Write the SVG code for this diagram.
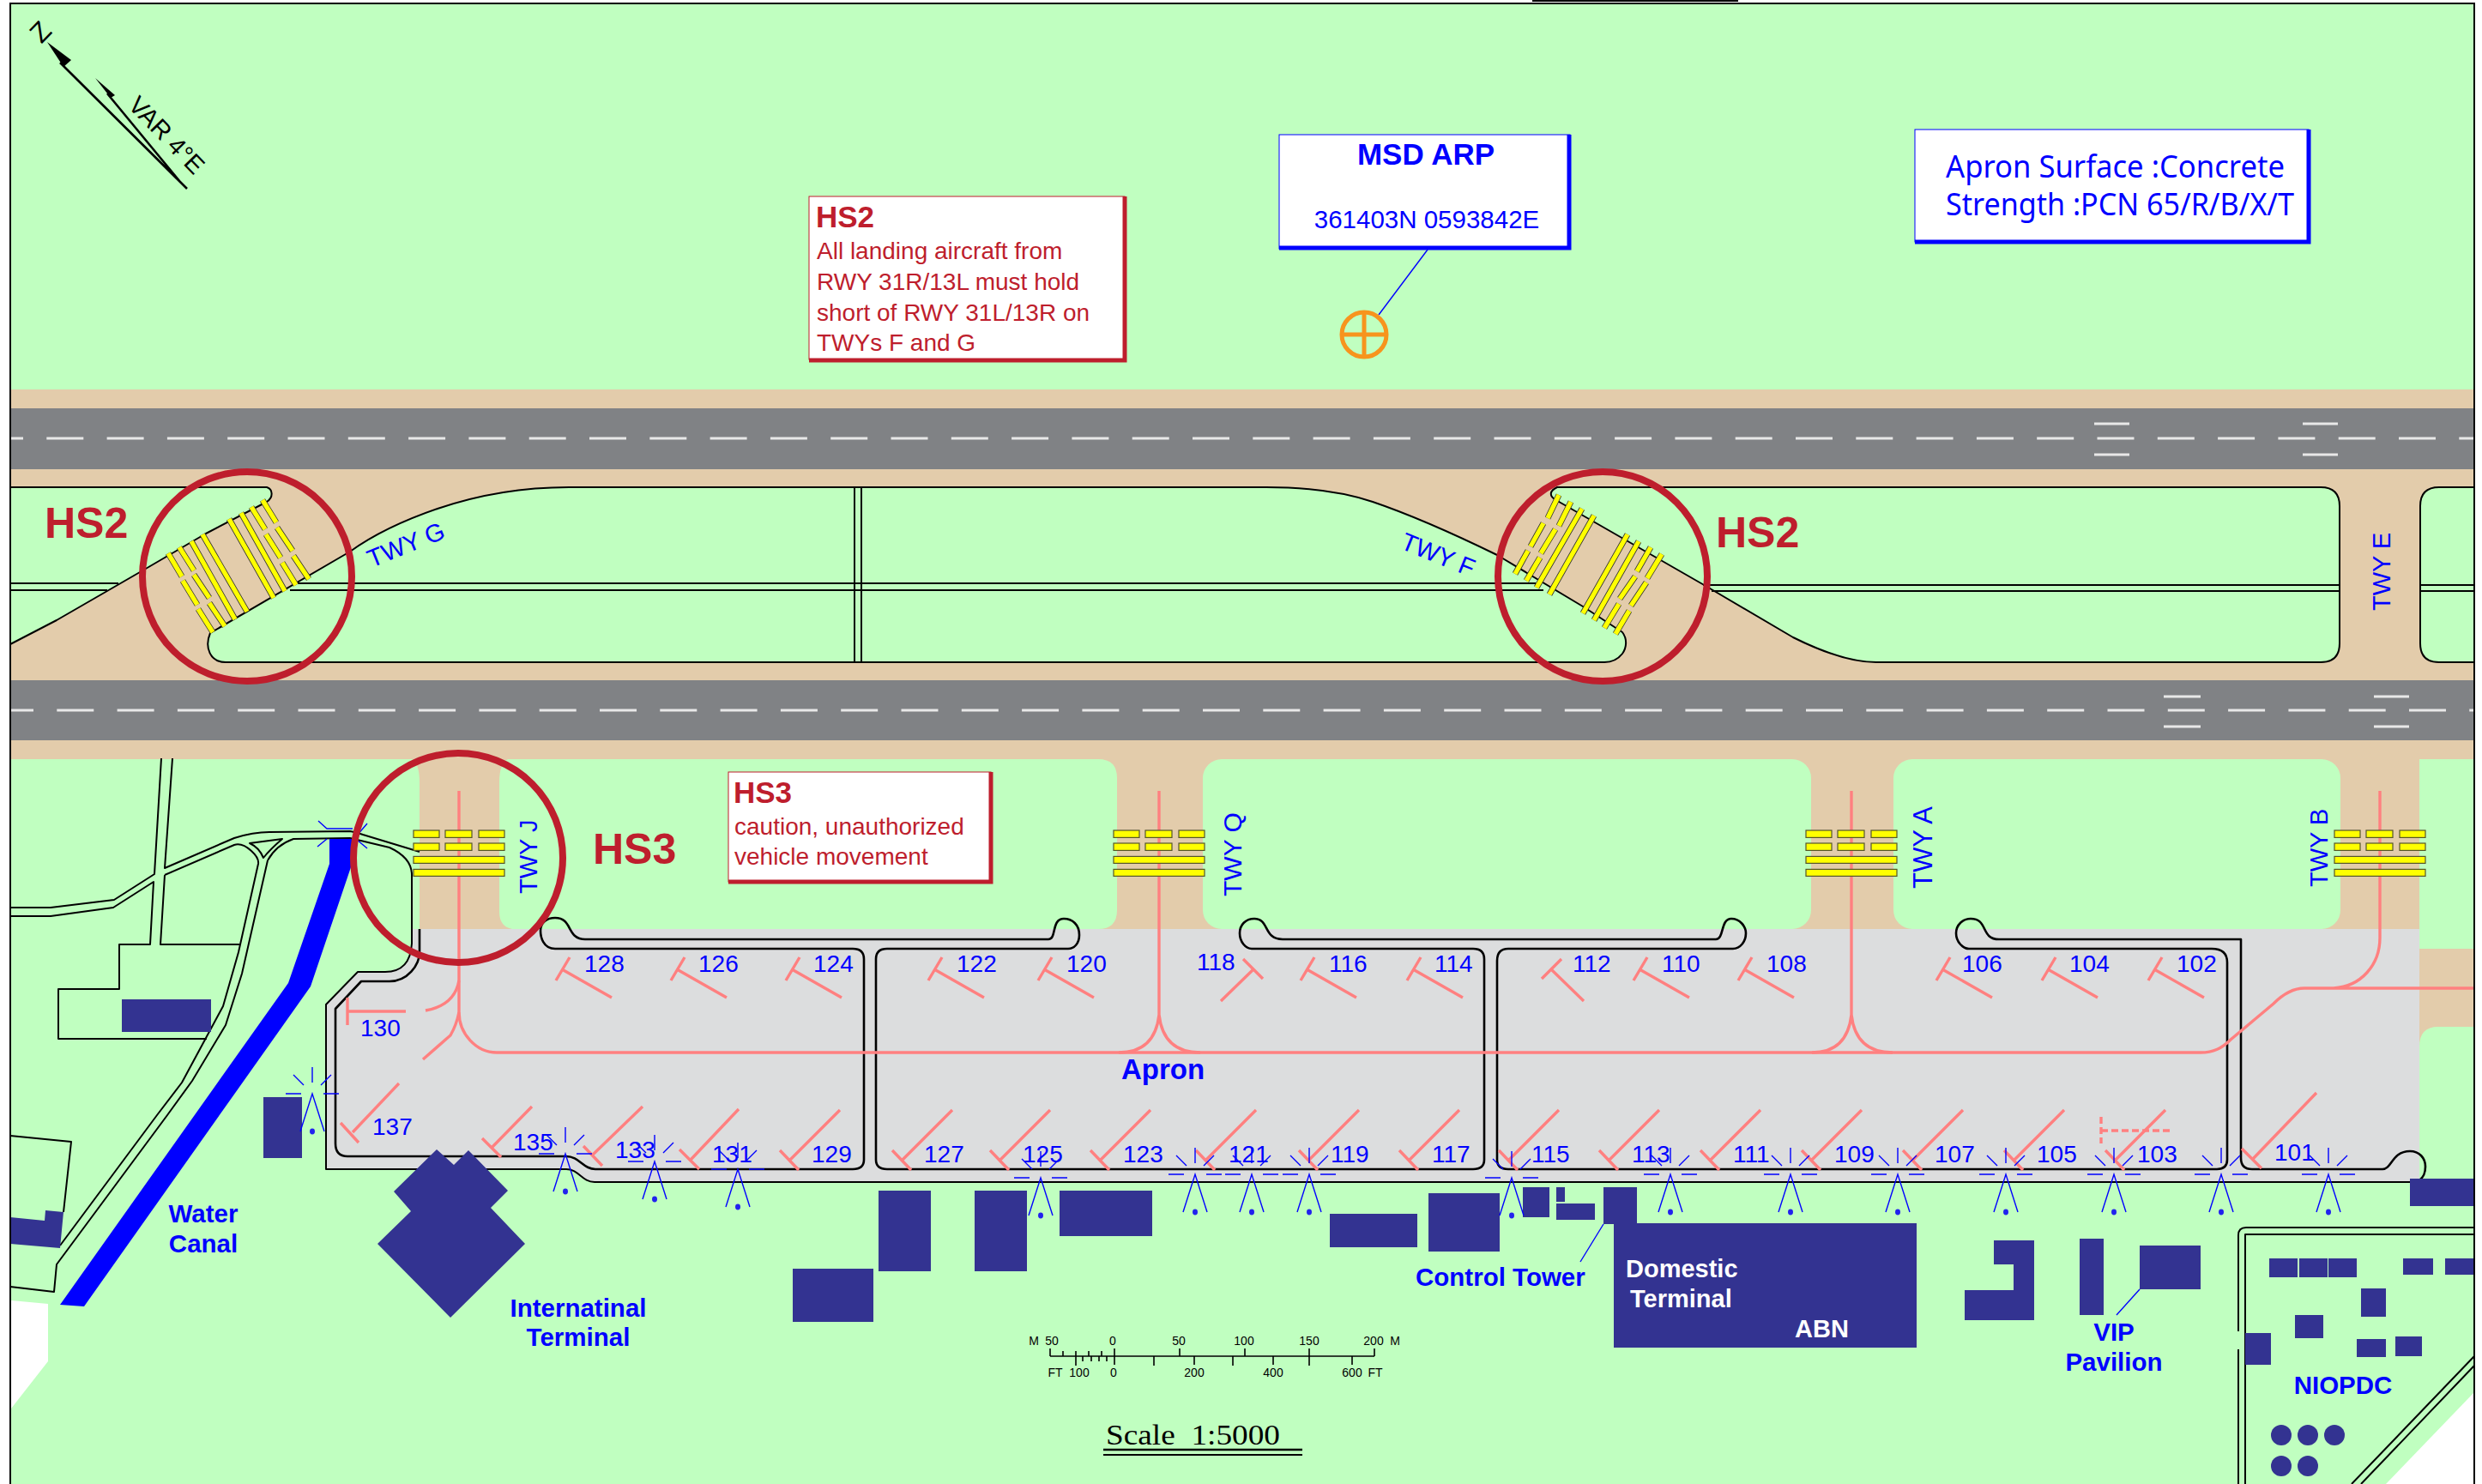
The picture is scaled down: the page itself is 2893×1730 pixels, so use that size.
<svg xmlns="http://www.w3.org/2000/svg" xmlns:xlink="http://www.w3.org/1999/xlink" width="2893" height="1730" viewBox="0 0 2893 1730">
<style>
text{font-family:"Liberation Sans",Arial,sans-serif}
.gr{fill:#C0FFC0}.tan{fill:#E3CCAB}.rw{fill:#808285}.nv{fill:#333391}
.rd{fill:none;stroke:#000;stroke-width:2;stroke-linejoin:round}
.ap{fill:none;stroke:#000;stroke-width:2.6;stroke-linejoin:round}
.dash{fill:none;stroke:#E8E8E8;stroke-width:3;stroke-dasharray:43 27.3}
.thr{fill:none;stroke:#E8E8E8;stroke-width:3}
.pk{fill:none;stroke:#FF8080;stroke-width:3.4}
.bar{fill:#FFFF00;stroke:#55552a;stroke-width:1.2}
.o{fill:none;stroke:#333;stroke-width:7}
.y{fill:none;stroke:#FFFF00;stroke-width:5.4}
.ring{fill:none;stroke:#BE1E2D;stroke-width:8}
.n{fill:#0000FF;font-size:28px}
.l{fill:#0000FF;font-size:29.5px;font-weight:bold}
.t{fill:#0000FF;font-size:29px}
.h{fill:#BE1E2D;font-size:50px;font-weight:bold}
.w{fill:#fff;font-size:29px;font-weight:bold}
.r{fill:#BE1E2D;font-size:28px}
.s{fill:#000;font-size:14px;text-anchor:middle}
.lt{fill:none;stroke:#0000FF;stroke-width:1.4}
.tk{fill:none;stroke:#000;stroke-width:1.6}
</style>
<defs>
<g id="st"><path class="pk" d="M0,0L58,33M9,-14L-7,13"/></g>
<g id="sb"><path class="pk" d="M0,0L58,-58M-12,-11L10,12"/></g>
<g id="li"><path class="lt" d="M-14,44L0,0L14,44M0,-31V-13M-22,-22L-10,-10M22,-22L10,-10M-31,0H-13M13,0H31"/><ellipse cx="0" cy="44" rx="3" ry="3.4" fill="#2222EE"/></g>
<g id="hb">
<rect class="bar" x="-53" y="0" width="30" height="8.4"/><rect class="bar" x="-16" y="0" width="31" height="8.4"/><rect class="bar" x="23" y="0" width="30" height="8.4"/>
<rect class="bar" x="-53" y="15" width="30" height="8.4"/><rect class="bar" x="-16" y="15" width="31" height="8.4"/><rect class="bar" x="23" y="15" width="30" height="8.4"/>
<rect class="bar" x="-53" y="30.4" width="106" height="8"/><rect class="bar" x="-53" y="45.4" width="106" height="8"/>
</g>
<path id="bg" d="M267,605L319,697M281,598L332,689M293,591L309,617M310,623L327,650M329,656L345,682M306,583L322,609M323,615L341,642M342,648L360,675M196,645L212,672M213,677L230,705M231,710L248,737M209,638L226,665M226,670L244,697M244,703L262,730M223,631L274,722M236,623L288,713"/>
<path id="bf" d="M1817,577L1804,604M1799,610L1784,637M1781,642L1766,669M1831,585L1817,613M1813,617L1796,645M1795,650L1779,677M1844,593L1791,685M1858,601L1806,693M1897,623L1845,715M1910,631L1858,723M1924,638L1908,666M1906,672L1888,698M1887,704L1870,732M1937,646L1920,674M1919,679L1901,706M1899,712L1883,739"/>
</defs>

<g id="ground">
<rect width="2893" height="1730" fill="#fff"/>
<rect class="gr" x="12" y="4" width="2872" height="1726"/>
<polygon fill="#fff" points="13,1516 56,1520 56,1587 13,1642"/>
<polygon fill="#fff" points="2884,1623 2781,1730 2884,1730"/>
<rect class="tan" x="12" y="454" width="2872" height="431"/>
<rect class="tan" x="12" y="885" width="2808" height="198"/>
<path class="tan" d="M2819,1106H2884V1197H2842Q2820,1197 2820,1220Z"/>
</g>

<g id="infield">
<path class="gr" d="M12,568H311C318,570 319,580 311,585L240,622L163,667L66,723L12,751Z"/>
<path class="gr" d="M245,738L408,643C440,620 475,605 510,593C560,576 610,568 663,568H1476C1530,568 1570,575 1600,585C1650,602 1700,625 1745,647L1845,707L1891,737C1897,745 1896,755 1891,762C1885,770 1878,772 1870,772H263C245,772 238,755 245,738Z"/>
<path class="gr" d="M1815,568H2705Q2727,568 2727,590V750Q2727,772 2705,772H2187C2160,772 2130,763 2090,743L1988,683L1812,582C1806,578 1806,572 1815,568Z"/>
<path class="gr" d="M2843,568H2884V772H2843Q2821,772 2821,750V590Q2821,568 2843,568Z"/>
<path class="gr" d="M12,885H480Q489,890 489,912V1083H12Z"/>
<path class="gr" d="M582,912Q582,890 592,885H1280Q1302,885 1302,907V1061Q1302,1083 1280,1083H597Q582,1080 582,1063Z"/>
<rect class="gr" x="1402" y="885" width="709" height="198" rx="22"/>
<rect class="gr" x="2207" y="885" width="521" height="198" rx="22"/>
<path class="gr" d="M2820,905Q2820,885 2838,885H2884V1106H2820Z"/>
</g>

<g id="runways">
<rect class="rw" x="12" y="476" width="2872" height="71"/>
<rect class="rw" x="12" y="793" width="2872" height="70"/>
<path class="dash" stroke-dashoffset="28" d="M12,511H2884"/>
<path class="dash" stroke-dashoffset="16" d="M12,828H2884"/>
<path class="thr" d="M2441,494H2482M2441,530H2482M2684,494H2725M2684,530H2725M2522,812H2565M2522,847H2565M2767,812H2808M2767,847H2808"/>
</g>

<g id="apron">
<path fill="#DCDDDE" d="M479,1083H2820V1375L2809,1378H693C675,1378 672,1363 660,1363H380V1171L417,1133H449C469,1130 479,1120 479,1110Z"/>
</g>

<g id="linework">
<path class="rd" d="M12,568H311C318,570 319,580 311,585L240,622L163,667L66,723L12,751"/>
<path class="rd" d="M245,738L408,643C440,620 475,605 510,593C560,576 610,568 663,568H1476C1530,568 1570,575 1600,585C1650,602 1700,625 1745,647L1845,707L1891,737C1897,745 1896,755 1891,762C1885,770 1878,772 1870,772H263C245,772 238,755 245,738"/>
<path class="rd" d="M1815,568H2705Q2727,568 2727,590V750Q2727,772 2705,772H2187C2160,772 2130,763 2090,743L1988,683L1812,582C1806,578 1806,572 1815,568Z"/>
<path class="rd" d="M2884,568H2843Q2821,568 2821,590V750Q2821,772 2843,772H2884"/>
<path class="rd" d="M12,680H138M12,688H125M347,680H1790M338,688H1799M1985,682H2727M1995,689H2727M2821,682H2884M2821,689H2884M996,568V772M1004,568V772"/>
<path class="rd" d="M12,1058H59L133,1049L180,1019L188,884"/>
<path class="rd" d="M12,1068H59L132,1058L179,1028L175,1101H139V1153H68V1211H241"/>
<path class="rd" d="M201,884L192,1012L273,977Q295,970 314,970L408,969Q415,970 423,973L489,993"/>
<path class="rd" d="M192,1020L187,1101H279M192,1020L273,985Q282,982 293,992Q302,1000 301,1007L278,1110L260,1173L212,1262L183,1300L70,1452"/>
<path class="rd" d="M312,1003Q322,985 342,978L408,977L454,988Q480,1000 480,1020V1100Q478,1133 449,1133H417L380,1171V1363H660C675,1363 678,1378 693,1378H2809"/>
<path class="rd" d="M312,1003L282,1135L263,1195L224,1260L195,1300L66,1474L63,1506L12,1500"/>
<path class="rd" d="M291,983L329,978Q315,990 307,1000Q302,988 291,983Z"/>
<path class="rd" d="M12,1324L83,1331L74,1413"/>
<path class="ap" d="M489,1083V1110C489,1125 475,1144 454,1144H421L391,1176V1333Q391,1348 405,1348H660C675,1348 680,1363 694,1363H994Q1007,1363 1007,1352V1118Q1007,1106 994,1106H647C633,1106 630,1092 630,1085C630,1075 638,1070 647,1070C668,1070 660,1095 682,1095H1222C1232,1095 1225,1071 1240,1071C1250,1071 1258,1078 1258,1090C1258,1100 1252,1106 1245,1106H1034Q1021,1106 1021,1118V1352Q1021,1363 1034,1363H1717Q1730,1363 1730,1352V1118Q1730,1106 1717,1106H1459C1452,1106 1445,1098 1445,1088C1445,1078 1452,1071 1462,1071C1480,1071 1472,1095 1495,1095H2000C2010,1095 2005,1071 2018,1071C2028,1071 2035,1080 2035,1088C2035,1098 2028,1106 2020,1106H1758Q1745,1106 1745,1120V1352Q1745,1363 1758,1363H2584Q2596,1363 2596,1352V1122Q2596,1106 2578,1106H2295C2288,1106 2280,1098 2280,1088C2280,1078 2288,1071 2297,1071C2318,1071 2308,1095 2330,1095H2612V1350Q2612,1363 2625,1363H2777C2788,1363 2788,1342 2809,1342C2820,1342 2827,1350 2827,1360C2827,1368 2825,1372 2820,1376"/>
<path class="rd" d="M2884,1431H2618Q2609,1431 2609,1440V1552M2609,1573V1730M2884,1439H2617V1730"/>
<path class="rd" d="M2884,1581L2741,1730M2884,1592L2752,1730"/>
</g>

<g id="canal">
<polygon fill="#0000FF" points="384,978 410,978 410,1008 362,1150 98,1523 70,1521 336,1146 384,1007"/>
<path class="lt" d="M371,957L381,966H411M428,960L416,974M370,987L381,978M428,989L416,979"/>
</g>

<g id="buildings">
<rect class="nv" x="142" y="1165" width="104" height="38"/>
<rect class="nv" x="307" y="1279" width="45" height="71"/>
<polygon class="nv" points="509,1340 529,1358 546,1341 592,1388 572,1408 612,1450 525,1536 440,1450 479,1412 459,1389"/>
<polygon class="nv" points="12,1419 52,1423 53,1411 74,1413 70,1455 12,1450"/>
<rect class="nv" x="924" y="1479" width="94" height="62"/>
<rect class="nv" x="1024" y="1388" width="61" height="94"/>
<rect class="nv" x="1136" y="1388" width="61" height="94"/>
<rect class="nv" x="1235" y="1388" width="108" height="53"/>
<rect class="nv" x="1550" y="1415" width="102" height="39"/>
<rect class="nv" x="1665" y="1391" width="83" height="68"/>
<rect class="nv" x="1775" y="1384" width="31" height="35"/>
<rect class="nv" x="1814" y="1384" width="10" height="17"/>
<rect class="nv" x="1814" y="1403" width="45" height="19"/>
<rect class="nv" x="1869" y="1384" width="39" height="43"/>
<rect class="nv" x="1881" y="1426" width="353" height="145"/>
<polygon class="nv" points="2324,1446 2371,1446 2371,1539 2290,1539 2290,1504 2347,1504 2347,1474 2324,1474"/>
<rect class="nv" x="2424" y="1444" width="28" height="89"/>
<rect class="nv" x="2494" y="1452" width="71" height="51"/>
<rect class="nv" x="2809" y="1374" width="75" height="32"/>
<rect class="nv" x="2645" y="1467" width="33" height="22"/>
<rect class="nv" x="2680" y="1467" width="33" height="22"/>
<rect class="nv" x="2714" y="1467" width="33" height="22"/>
<rect class="nv" x="2801" y="1467" width="35" height="19"/>
<rect class="nv" x="2850" y="1467" width="34" height="19"/>
<rect class="nv" x="2752" y="1502" width="29" height="33"/>
<rect class="nv" x="2675" y="1533" width="33" height="27"/>
<rect class="nv" x="2747" y="1561" width="34" height="21"/>
<rect class="nv" x="2792" y="1558" width="31" height="23"/>
<rect class="nv" x="2617" y="1554" width="30" height="37"/>
<circle class="nv" cx="2659" cy="1673" r="12"/><circle class="nv" cx="2690" cy="1673" r="12"/><circle class="nv" cx="2721" cy="1673" r="12"/>
<circle class="nv" cx="2659" cy="1709" r="12"/><circle class="nv" cx="2690" cy="1709" r="12"/>
<path class="lt" d="M2494,1503L2467,1533M1869,1427L1842,1471"/>
</g>

<g id="guidelines">
<path class="pk" d="M535,922V1180C535,1205 555,1227 579,1227H2565C2580,1227 2590,1222 2600,1212L2650,1170Q2668,1152 2686,1152H2884M2720,1152C2752,1150 2774,1125 2774,1093V922"/>
<path class="pk" d="M535,1180Q532,1195 525,1207L493,1235M535,1143Q530,1172 496,1178M405,1163V1195M405,1179H473"/>
<path class="pk" d="M1351,922V1183Q1346,1227 1304,1227M1351,1183Q1356,1227 1399,1227M2158,922V1183Q2153,1227 2112,1227M2158,1183Q2163,1227 2206,1227"/>
<path class="pk" stroke-dasharray="8 4" d="M2449,1302V1333M2449,1318H2531"/>
<path class="pk" d="M411,1320L465,1263M397,1309L418,1332M573,1338L620,1290M562,1327L584,1349M690,1347L749,1290M680,1336L702,1359M805,1352L861,1293M792,1340L815,1363"/>
<path class="pk" d="M1461,1130L1423,1167M1449,1118L1472,1141M1808,1130L1846,1167M1820,1118L1797,1141M2625,1352L2700,1274M2613,1339L2636,1362"/>
<use xlink:href="#st" x="655" y="1130"/><use xlink:href="#st" x="789" y="1130"/><use xlink:href="#st" x="923" y="1130"/><use xlink:href="#st" x="1089" y="1130"/><use xlink:href="#st" x="1217" y="1130"/><use xlink:href="#st" x="1523" y="1130"/><use xlink:href="#st" x="1647" y="1130"/><use xlink:href="#st" x="1911" y="1130"/><use xlink:href="#st" x="2033" y="1130"/><use xlink:href="#st" x="2264" y="1130"/><use xlink:href="#st" x="2387" y="1130"/><use xlink:href="#st" x="2511" y="1130"/>
<use xlink:href="#sb" x="921" y="1352"/><use xlink:href="#sb" x="1052" y="1352"/><use xlink:href="#sb" x="1166" y="1352"/><use xlink:href="#sb" x="1283" y="1352"/><use xlink:href="#sb" x="1406" y="1352"/><use xlink:href="#sb" x="1526" y="1352"/><use xlink:href="#sb" x="1643" y="1352"/><use xlink:href="#sb" x="1759" y="1352"/><use xlink:href="#sb" x="1876" y="1352"/><use xlink:href="#sb" x="1994" y="1352"/><use xlink:href="#sb" x="2112" y="1352"/><use xlink:href="#sb" x="2230" y="1352"/><use xlink:href="#sb" x="2348" y="1352"/><use xlink:href="#sb" x="2466" y="1352"/>
</g>

<g id="holdbars">
<use xlink:href="#hb" x="535" y="968"/><use xlink:href="#hb" x="1351" y="968"/><use xlink:href="#hb" x="2158" y="968"/><use xlink:href="#hb" x="2774" y="968"/>
<use xlink:href="#bg" class="o"/><use xlink:href="#bg" class="y"/><use xlink:href="#bf" class="o"/><use xlink:href="#bf" class="y"/>
</g>

<g id="lights">
<use xlink:href="#li" x="364" y="1275"/><use xlink:href="#li" x="659" y="1345"/><use xlink:href="#li" x="763" y="1354"/><use xlink:href="#li" x="860" y="1363"/><use xlink:href="#li" x="1213" y="1373"/><use xlink:href="#li" x="1393" y="1369"/><use xlink:href="#li" x="1459" y="1369"/><use xlink:href="#li" x="1526" y="1369"/><use xlink:href="#li" x="1762" y="1373"/><use xlink:href="#li" x="1947" y="1369"/><use xlink:href="#li" x="2087" y="1369"/><use xlink:href="#li" x="2212" y="1369"/><use xlink:href="#li" x="2338" y="1369"/><use xlink:href="#li" x="2464" y="1369"/><use xlink:href="#li" x="2589" y="1369"/><use xlink:href="#li" x="2714" y="1369"/>
</g>

<g id="rings">
<circle class="ring" cx="288" cy="672" r="122"/><circle class="ring" cx="1868" cy="672" r="122"/><circle class="ring" cx="534" cy="1000" r="122"/>
</g>

<g id="stand-labels">
<text class="n" x="681" y="1133">128</text><text class="n" x="814" y="1133">126</text><text class="n" x="948" y="1133">124</text><text class="n" x="1115" y="1133">122</text><text class="n" x="1243" y="1133">120</text><text class="n" x="1395" y="1131">118</text><text class="n" x="1549" y="1133">116</text><text class="n" x="1672" y="1133">114</text><text class="n" x="1833" y="1133">112</text><text class="n" x="1937" y="1133">110</text><text class="n" x="2059" y="1133">108</text><text class="n" x="2287" y="1133">106</text><text class="n" x="2412" y="1133">104</text><text class="n" x="2537" y="1133">102</text>
<text class="n" x="420" y="1208">130</text><text class="n" x="434" y="1323">137</text><text class="n" x="598" y="1341">135</text><text class="n" x="717" y="1350">133</text><text class="n" x="830" y="1355">131</text><text class="n" x="946" y="1355">129</text><text class="n" x="1077" y="1355">127</text><text class="n" x="1192" y="1355">125</text><text class="n" x="1309" y="1355">123</text><text class="n" x="1432" y="1355">121</text><text class="n" x="1551" y="1355">119</text><text class="n" x="1669" y="1355">117</text><text class="n" x="1785" y="1355">115</text><text class="n" x="1902" y="1355">113</text><text class="n" x="2020" y="1355">111</text><text class="n" x="2138" y="1355">109</text><text class="n" x="2255" y="1355">107</text><text class="n" x="2374" y="1355">105</text><text class="n" x="2491" y="1355">103</text><text class="n" x="2651" y="1353">101</text>
</g>

<g id="labels">
<text class="h" x="52" y="627">HS2</text><text class="h" x="2000" y="638">HS2</text><text class="h" x="691" y="1007">HS3</text>
<text class="t" transform="translate(433,662) rotate(-22)">TWY G</text>
<text class="t" transform="translate(1631,639) rotate(22)">TWY F</text>
<text class="t" transform="translate(2786,712) rotate(-90)">TWY E</text>
<text class="t" transform="translate(626,1042) rotate(-90)">TWY J</text>
<text class="t" style="font-size:30px" transform="translate(1447,1045) rotate(-90)">TWY Q</text>
<text class="t" style="font-size:31px" transform="translate(2252,1036) rotate(-90)">TWY A</text>
<text class="t" transform="translate(2713,1034) rotate(-90)">TWY B</text>
<text style="fill:#00f;font-size:33px;font-weight:bold" x="1307" y="1258">Apron</text>
<text class="l" x="237" y="1425" text-anchor="middle">Water</text><text class="l" x="237" y="1460" text-anchor="middle">Canal</text>
<text class="l" x="674" y="1535" text-anchor="middle">Internatinal</text><text class="l" x="674" y="1569" text-anchor="middle">Terminal</text>
<text class="l" x="1650" y="1499">Control Tower</text>
<text class="w" x="1895" y="1489">Domestic</text><text class="w" x="1900" y="1524">Terminal</text><text class="w" x="2092" y="1559">ABN</text>
<text class="l" x="2464" y="1563" text-anchor="middle">VIP</text><text class="l" x="2464" y="1598" text-anchor="middle">Pavilion</text>
<text class="l" x="2731" y="1625" text-anchor="middle">NIOPDC</text>
</g>

<g id="note-hs2">
<rect x="943" y="229" width="368" height="190" fill="#fff" stroke="#BE1E2D" stroke-width="1"/>
<path fill="none" stroke="#BE1E2D" stroke-width="5" d="M1311,229V420H943"/>
<text style="fill:#BE1E2D;font-size:35px;font-weight:bold" x="951" y="265">HS2</text>
<text class="r" x="952" y="302">All landing aircraft from</text><text class="r" x="952" y="338">RWY 31R/13L must hold</text><text class="r" x="952" y="374">short of RWY 31L/13R on</text><text class="r" x="952" y="409">TWYs F and G</text>
</g>
<g id="note-hs3">
<rect x="849" y="900" width="306" height="128" fill="#fff" stroke="#BE1E2D" stroke-width="1"/>
<path fill="none" stroke="#BE1E2D" stroke-width="5" d="M1155,900V1028H849"/>
<text style="fill:#BE1E2D;font-size:35px;font-weight:bold" x="855" y="936">HS3</text>
<text class="r" x="856" y="973">caution, unauthorized</text><text class="r" x="856" y="1008">vehicle movement</text>
</g>
<g id="arp">
<rect x="1491" y="157" width="339" height="133" fill="#fff" stroke="#0000FF" stroke-width="1"/>
<path fill="none" stroke="#0000FF" stroke-width="5" d="M1829,157V289H1491"/>
<text x="1662" y="192" text-anchor="middle" style="fill:#00f;font-size:35px;font-weight:bold">MSD ARP</text>
<text x="1663" y="266" text-anchor="middle" style="fill:#00f;font-size:29.5px">361403N 0593842E</text>
<path class="lt" d="M1664,291L1607,367"/>
<circle cx="1590" cy="390" r="26" fill="none" stroke="#F7941D" stroke-width="5"/>
<path fill="none" stroke="#F7941D" stroke-width="5" d="M1564,390H1616M1590,364V416"/>
</g>
<g id="apron-info">
<rect x="2232" y="151" width="459" height="131" fill="#fff" stroke="#0000FF" stroke-width="1"/>
<path fill="none" stroke="#0000FF" stroke-width="5" d="M2691,151V282H2232"/>
<text x="2268" y="207" textLength="395" lengthAdjust="spacingAndGlyphs" style="fill:#00f;font-size:36px;font-family:'Noto Sans',sans-serif">Apron Surface :Concrete</text>
<text x="2268" y="251" textLength="406" lengthAdjust="spacingAndGlyphs" style="fill:#00f;font-size:36px;font-family:'Noto Sans',sans-serif">Strength :PCN 65/R/B/X/T</text>
</g>

<g id="compass">
<path fill="none" stroke="#000" stroke-width="2.6" d="M218,220L70,73M210,212L125,109"/>
<polygon points="55,49 83,70 74,78"/>
<polygon points="111,91 134,111 129,114"/>
<text style="font-size:32px" text-anchor="middle" transform="translate(47,37) rotate(-46)" y="11">Z</text>
<text style="font-size:29px" transform="translate(148,124) rotate(46)">VAR 4°E</text>
</g>

<g id="scale">
<path class="tk" d="M1224,1581H1602M1224,1572V1581M1239,1575V1581M1254,1575V1592M1269,1575V1581M1284,1575V1581M1299,1572V1591M1375,1572V1581M1451,1572V1581M1526,1572V1592M1602,1572V1581M1262,1581V1587M1272,1581V1587M1281,1581V1587M1290,1581V1587M1345,1581V1592M1392,1581V1591M1437,1581V1592M1484,1581V1591M1576,1581V1591"/>
<text class="s" x="1205" y="1568">M</text><text class="s" x="1226" y="1568">50</text><text class="s" x="1297" y="1568">0</text><text class="s" x="1374" y="1568">50</text><text class="s" x="1450" y="1568">100</text><text class="s" x="1526" y="1568">150</text><text class="s" x="1601" y="1568">200</text><text class="s" x="1626" y="1568">M</text>
<text class="s" x="1230" y="1605">FT</text><text class="s" x="1258" y="1605">100</text><text class="s" x="1298" y="1605">0</text><text class="s" x="1392" y="1605">200</text><text class="s" x="1484" y="1605">400</text><text class="s" x="1576" y="1605">600</text><text class="s" x="1603" y="1605">FT</text>
<text x="1289" y="1684" textLength="203" lengthAdjust="spacingAndGlyphs" xml:space="preserve" style="font-family:'Liberation Serif',serif;font-size:33px;fill:#000">Scale  1:5000</text>
<path fill="none" stroke="#000" stroke-width="2.4" d="M1286,1690H1518"/><path fill="none" stroke="#000" stroke-width="1.8" d="M1286,1696H1518"/>
</g>

<g id="frame">
<path fill="none" stroke="#000" stroke-width="2" d="M12,1730V4H2884V1730"/>
<path stroke="#000" stroke-width="2" d="M1786,1H2026"/>
</g>
</svg>
